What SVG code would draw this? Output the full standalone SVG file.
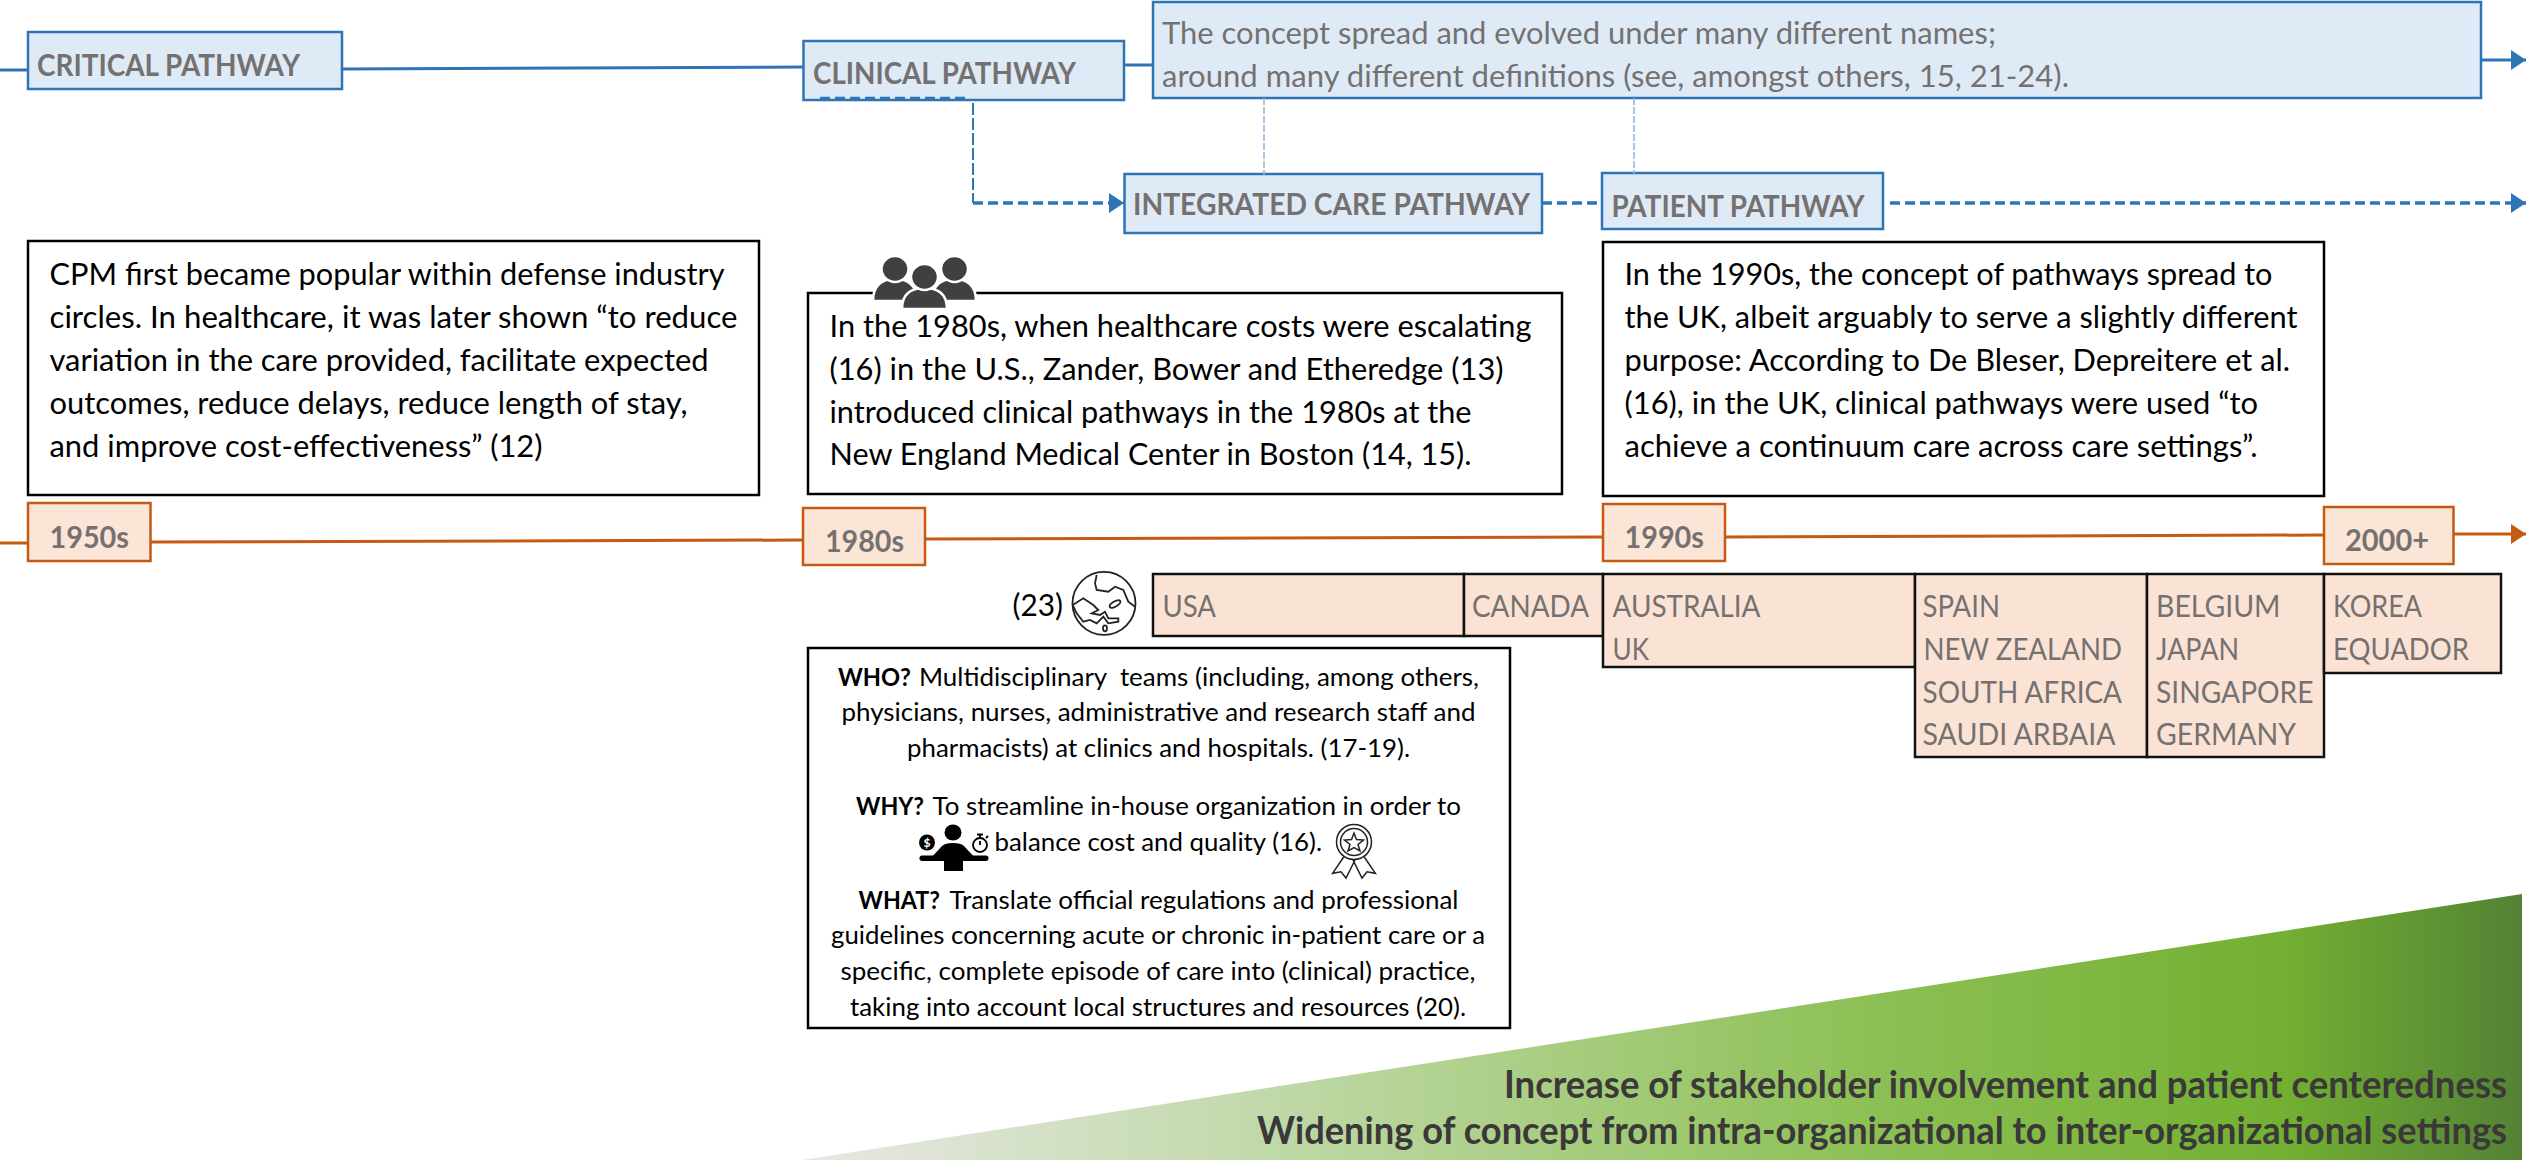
<svg xmlns="http://www.w3.org/2000/svg" width="2527" height="1160" viewBox="0 0 2527 1160">
<style>
text{font-family:"Lato","Liberation Sans",sans-serif;}
.bl{fill:#deebf7;stroke:#2e75b6;stroke-width:2.5}
.or{fill:#fbe5d6;stroke:#c55a11;stroke-width:2.5}
.tb{fill:#fff;stroke:#000;stroke-width:2.5}
.cb{fill:#fae3d5;stroke:#111;stroke-width:2.5}
.lab{font-size:30px;font-weight:700;fill:#767171}
.gr{font-size:30px;fill:#767171}
.bk{font-size:30px;fill:#000}
.sm{font-size:25px;fill:#000}
.smb{font-size:25px;fill:#000;font-weight:700}
.big{font-size:38px;font-weight:700;fill:#3a3838}
.sb{stroke:#2e75b6;stroke-width:3;fill:none}
.sd{stroke:#2e75b6;stroke-width:3.5;fill:none;stroke-dasharray:10 5}
.sl{stroke:#2e75b6;stroke-width:2;fill:none;stroke-dasharray:12 3}
.st{stroke:#8db4dc;stroke-width:1.5;fill:none;stroke-dasharray:7 2}
.so{stroke:#c55a11;stroke-width:3;fill:none}
</style>
<defs>
<marker id="ab" markerUnits="userSpaceOnUse" markerWidth="16" markerHeight="20" refX="15" refY="10" orient="auto"><path d="M0 0L15 10L0 20Z" fill="#2e75b6"/></marker>
<marker id="ao" markerUnits="userSpaceOnUse" markerWidth="16" markerHeight="20" refX="15" refY="10" orient="auto"><path d="M0 0L15 10L0 20Z" fill="#c55a11"/></marker>
<linearGradient id="gt" x1="802" y1="0" x2="2522" y2="0" gradientUnits="userSpaceOnUse">
<stop offset="0" stop-color="#e8e8e4"/><stop offset="0.3" stop-color="#bcd7a2"/><stop offset="0.62" stop-color="#8dc055"/><stop offset="0.86" stop-color="#73b032"/><stop offset="1" stop-color="#548235"/>
</linearGradient>
</defs>

<g id="trend"><polygon points="802,1160 2522,894 2522,1160" fill="url(#gt)"/>
<text class="big" x="1504" y="1097.500" textLength="1003" lengthAdjust="spacingAndGlyphs">Increase of stakeholder involvement and patient centeredness</text>
<text class="big" x="1257" y="1143.500" textLength="1250" lengthAdjust="spacingAndGlyphs">Widening of concept from intra-organizational to inter-organizational settings</text></g>

<g id="critical-pathway"><rect class="bl" x="28" y="32" width="314" height="57"/><text class="lab" x="37" y="75.500" textLength="263" lengthAdjust="spacingAndGlyphs">CRITICAL PATHWAY</text></g>
<g id="clinical-pathway"><rect class="bl" x="803.500" y="41" width="320.500" height="59"/><text class="lab" x="813" y="83.500" textLength="263" lengthAdjust="spacingAndGlyphs">CLINICAL PATHWAY</text></g>
<g id="concept-note"><rect class="bl" x="1153" y="2" width="1328" height="96"/>
<text class="gr" x="1162" y="44" textLength="834" lengthAdjust="spacingAndGlyphs">The concept spread and evolved under many different names;</text>
<text class="gr" x="1162" y="87" textLength="907" lengthAdjust="spacingAndGlyphs">around many different definitions (see, amongst others, 15, 21-24).</text></g>
<g id="integrated-care-pathway"><rect class="bl" x="1124.500" y="174" width="417.500" height="59"/><text class="lab" x="1133" y="214.500" textLength="397" lengthAdjust="spacingAndGlyphs">INTEGRATED CARE PATHWAY</text></g>
<g id="patient-pathway"><rect class="bl" x="1602" y="173" width="281" height="56"/><text class="lab" x="1611.500" y="216.500" textLength="253" lengthAdjust="spacingAndGlyphs">PATIENT PATHWAY</text></g>

<g id="box-1950s"><rect class="tb" x="28" y="241" width="731" height="254"/>
<text class="bk" x="49.500" y="284.500" textLength="675" lengthAdjust="spacingAndGlyphs">CPM first became popular within defense industry</text>
<text class="bk" x="49.500" y="327.500" textLength="688" lengthAdjust="spacingAndGlyphs">circles. In healthcare, it was later shown “to reduce</text>
<text class="bk" x="49.500" y="370.500" textLength="659" lengthAdjust="spacingAndGlyphs">variation in the care provided, facilitate expected</text>
<text class="bk" x="49.500" y="413.500" textLength="638" lengthAdjust="spacingAndGlyphs">outcomes, reduce delays, reduce length of stay,</text>
<text class="bk" x="49.500" y="456.500" textLength="493" lengthAdjust="spacingAndGlyphs">and improve cost-effectiveness” (12)</text></g>

<g id="box-1980s"><rect class="tb" x="808" y="293" width="754" height="201"/>
<text class="bk" x="829.500" y="336.500" textLength="702" lengthAdjust="spacingAndGlyphs">In the 1980s, when healthcare costs were escalating</text>
<text class="bk" x="829.500" y="379.500" textLength="674" lengthAdjust="spacingAndGlyphs">(16) in the U.S., Zander, Bower and Etheredge (13)</text>
<text class="bk" x="829.500" y="422.500" textLength="642" lengthAdjust="spacingAndGlyphs">introduced clinical pathways in the 1980s at the</text>
<text class="bk" x="829.500" y="464.500" textLength="642" lengthAdjust="spacingAndGlyphs">New England Medical Center in Boston (14, 15).</text></g>

<g id="people-icon" fill="#404040" stroke="#fff" stroke-width="2.500">
<path d="M873 301C873 285 882 279 895 279C908 279 917 285 917 301Z"/>
<path d="M932 301C932 285 941 279 954 279C967 279 976 285 976 301Z"/>
<ellipse cx="895" cy="269" rx="13.500" ry="13"/><ellipse cx="954.500" cy="269" rx="13.500" ry="13"/>
<path d="M902 309C902 294 911 288 924.500 288C938 288 947 294 947 309Z"/>
<ellipse cx="924.500" cy="277" rx="13.500" ry="13"/>
</g>

<g id="box-1990s"><rect class="tb" x="1603" y="242" width="721" height="254"/>
<text class="bk" x="1624.500" y="285" textLength="648" lengthAdjust="spacingAndGlyphs">In the 1990s, the concept of pathways spread to</text>
<text class="bk" x="1624.500" y="328" textLength="673" lengthAdjust="spacingAndGlyphs">the UK, albeit arguably to serve a slightly different</text>
<text class="bk" x="1624.500" y="371" textLength="665.500" lengthAdjust="spacingAndGlyphs">purpose: According to De Bleser, Depreitere et al.</text>
<text class="bk" x="1624.500" y="414" textLength="633.500" lengthAdjust="spacingAndGlyphs">(16), in the UK, clinical pathways were used “to</text>
<text class="bk" x="1624.500" y="456.500" textLength="633" lengthAdjust="spacingAndGlyphs">achieve a continuum care across care settings”.</text></g>

<g id="era-1950s"><rect class="or" x="28" y="503" width="122.500" height="58"/><text class="lab" x="49.500" y="547.500" textLength="79.500" lengthAdjust="spacingAndGlyphs">1950s</text></g>
<g id="era-1980s"><rect class="or" x="803" y="508" width="122" height="57"/><text class="lab" x="825" y="551.500" textLength="79" lengthAdjust="spacingAndGlyphs">1980s</text></g>
<g id="era-1990s"><rect class="or" x="1603" y="504" width="122" height="57"/><text class="lab" x="1624.500" y="547.500" textLength="79.500" lengthAdjust="spacingAndGlyphs">1990s</text></g>
<g id="era-2000"><rect class="or" x="2324" y="507" width="129.500" height="57"/><text class="lab" x="2345" y="550.500" textLength="84" lengthAdjust="spacingAndGlyphs">2000+</text></g>

<g id="globe-ref"><text class="bk" x="1012.500" y="616" textLength="50.500" lengthAdjust="spacingAndGlyphs">(23)</text>
<g fill="none" stroke="#222" stroke-width="1.800"><circle cx="1104" cy="603.300" r="31.500"/>
<path d="M1096.700 575L1095 583.300L1096.700 590L1108.300 591.700L1115 586.700L1123.300 590L1128.300 601.700L1135 606.700"/>
<path d="M1072.700 605L1083.300 598.300L1093.300 605L1098.300 610L1091.700 613.300L1100 615L1105 611.700L1108.300 618.300L1118.300 618.300L1118.300 621.700L1108.300 623.300L1103.300 616.700L1096.700 623.300L1090 620L1083.300 621.700L1076.700 613.300Z"/>
<ellipse cx="1115" cy="604" rx="6" ry="2.500" transform="rotate(-30 1115 604)"/>
<ellipse cx="1105" cy="628.300" rx="2" ry="3"/></g></g>

<g id="who-why-what"><rect class="tb" x="808" y="648" width="702" height="380"/>
<text class="smb" x="838" y="686" textLength="73" lengthAdjust="spacingAndGlyphs">WHO?</text>
<text class="sm" x="919" y="686" textLength="560" lengthAdjust="spacingAndGlyphs">Multidisciplinary&#160; teams (including, among others,</text>
<text class="sm" x="841.500" y="721" textLength="634" lengthAdjust="spacingAndGlyphs">physicians, nurses, administrative and research staff and</text>
<text class="sm" x="907" y="757" textLength="503" lengthAdjust="spacingAndGlyphs">pharmacists) at clinics and hospitals. (17-19).</text>
<text class="smb" x="856" y="815" textLength="68" lengthAdjust="spacingAndGlyphs">WHY?</text>
<text class="sm" x="932.500" y="815" textLength="528.500" lengthAdjust="spacingAndGlyphs">To streamline in-house organization in order to</text>
<text class="sm" x="994.500" y="851" textLength="327.500" lengthAdjust="spacingAndGlyphs">balance cost and quality (16).</text>
<text class="smb" x="858.500" y="909" textLength="81.500" lengthAdjust="spacingAndGlyphs">WHAT?</text>
<text class="sm" x="949.500" y="909" textLength="509" lengthAdjust="spacingAndGlyphs">Translate official regulations and professional</text>
<text class="sm" x="831" y="944" textLength="654" lengthAdjust="spacingAndGlyphs">guidelines concerning acute or chronic in-patient care or a</text>
<text class="sm" x="840.500" y="980" textLength="635" lengthAdjust="spacingAndGlyphs">specific, complete episode of care into (clinical) practice,</text>
<text class="sm" x="850" y="1016" textLength="616" lengthAdjust="spacingAndGlyphs">taking into account local structures and resources (20).</text></g>

<g id="balance-icon">
<ellipse cx="953" cy="832.500" rx="8.500" ry="8"/>
<path d="M944 871V859H930L942 846Q945 843 953 843Q961 843 964 846L976 859H963V871Z"/>
<rect x="919.500" y="855.500" width="69" height="5.500" rx="2.700"/>
<circle cx="927" cy="842.500" r="8"/><text x="927" y="847" text-anchor="middle" font-size="12" font-weight="700" fill="#fff">$</text>
<g fill="none" stroke="#000" stroke-width="1.800"><circle cx="980" cy="845" r="7"/><path d="M977 834.500H983M980 835V838M980 845V841M986 838L988 836"/></g>
</g>
<g id="medal-icon" fill="none" stroke="#222" stroke-width="1.500">
<circle cx="1354" cy="842" r="17.500"/><circle cx="1354" cy="842" r="13.500"/>
<path d="M1354 833L1356.500 839.500L1363.500 840L1358 844.500L1360 851L1354 847.500L1348 851L1350 844.500L1344.500 840L1351.500 839.500Z"/>
<path d="M1343.700 857L1332.600 873.300L1341 871.700L1346 878L1355 860M1364.300 857L1375.400 873.300L1367 871.700L1362 878L1353 860"/>
</g>

<g id="countries">
<g id="c-usa"><rect class="cb" x="1153" y="574" width="311" height="62"/><text class="gr" x="1162.500" y="617" textLength="53.500" lengthAdjust="spacingAndGlyphs">USA</text></g>
<g id="c-canada"><rect class="cb" x="1464" y="574" width="139" height="62"/><text class="gr" x="1472" y="617" textLength="117" lengthAdjust="spacingAndGlyphs">CANADA</text></g>
<g id="c-1990"><rect class="cb" x="1603" y="574" width="312" height="93"/>
<text class="gr" x="1612.500" y="617" textLength="148" lengthAdjust="spacingAndGlyphs">AUSTRALIA</text>
<text class="gr" x="1612.500" y="660" textLength="36.500" lengthAdjust="spacingAndGlyphs">UK</text></g>
<g id="c-spain"><rect class="cb" x="1915" y="574" width="232" height="183"/>
<text class="gr" x="1922.500" y="617" textLength="77.500" lengthAdjust="spacingAndGlyphs">SPAIN</text>
<text class="gr" x="1923.500" y="660" textLength="198.500" lengthAdjust="spacingAndGlyphs">NEW ZEALAND</text>
<text class="gr" x="1922.500" y="703" textLength="199.500" lengthAdjust="spacingAndGlyphs">SOUTH AFRICA</text>
<text class="gr" x="1922.500" y="745" textLength="193" lengthAdjust="spacingAndGlyphs">SAUDI ARBAIA</text></g>
<g id="c-belgium"><rect class="cb" x="2147" y="574" width="177" height="183"/>
<text class="gr" x="2156" y="617" textLength="124.500" lengthAdjust="spacingAndGlyphs">BELGIUM</text>
<text class="gr" x="2156" y="660" textLength="83" lengthAdjust="spacingAndGlyphs">JAPAN</text>
<text class="gr" x="2156" y="703" textLength="157.500" lengthAdjust="spacingAndGlyphs">SINGAPORE</text>
<text class="gr" x="2156" y="745" textLength="140" lengthAdjust="spacingAndGlyphs">GERMANY</text></g>
<g id="c-korea"><rect class="cb" x="2324" y="574" width="177" height="99"/>
<text class="gr" x="2333" y="617" textLength="89" lengthAdjust="spacingAndGlyphs">KOREA</text>
<text class="gr" x="2333" y="660" textLength="136" lengthAdjust="spacingAndGlyphs">EQUADOR</text></g>
</g>

<g id="connectors">
<path class="sb" d="M0 70H28"/>
<path class="sb" d="M342 69L803 67"/>
<path class="sb" d="M1124 65H1153"/>
<path class="sb" d="M2481 60H2526" marker-end="url(#ab)"/>
<path class="sd" d="M820 98.500H967"/>
<path class="sl" d="M973 103V203"/>
<path class="sd" d="M973 203H1124" marker-end="url(#ab)"/>
<path class="sd" d="M1542 203H1602"/>
<path class="sd" d="M1890 203H2526" marker-end="url(#ab)"/>
<path class="st" d="M1264 98V175"/>
<path class="st" d="M1634 98V175"/>
<path class="so" d="M0 543H28"/>
<path class="so" d="M150 542L803 540"/>
<path class="so" d="M925 539L1603 537"/>
<path class="so" d="M1725 537L2324 535"/>
<path class="so" d="M2454 534H2526" marker-end="url(#ao)"/>
</g>
</svg>
